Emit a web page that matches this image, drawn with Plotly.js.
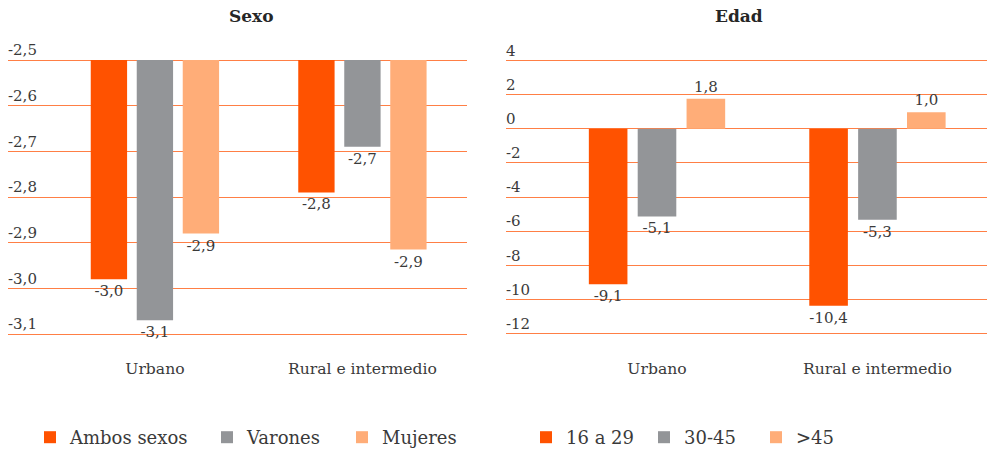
<!DOCTYPE html>
<html>
<head>
<meta charset="utf-8">
<script src="https://cdn.plot.ly/plotly-3.0.1.min.js"></script>
<style>html,body{margin:0;padding:0;background:#fff;}#chart{width:988px;height:450px;}</style>
</head>
<body>
<div id="chart"></div>
<script>
// ---- data ----
const categories = ['Urbano', 'Rural e intermedio'];

const sexoTitle = 'Sexo';
const sexoNames = ['Ambos sexos', 'Varones', 'Mujeres'];
const ambosSexos = [-2.98, -2.79];
const varones = [-3.07, -2.69];
const mujeres = [-2.88, -2.915];
const sexoTicks = [-3.1, -3.0, -2.9, -2.8, -2.7, -2.6, -2.5];

const edadTitle = 'Edad';
const edadNames = ['16 a 29', '30-45', '>45'];
const edad16a29 = [-9.12, -10.37];
const edad30a45 = [-5.14, -5.34];
const edadMas45 = [1.76, 0.97];
const edadTicks = [-12, -10, -8, -6, -4, -2, 0, 2, 4];

// ---- style ----
const colors = ['#FF5200', '#939598', '#FFAD78'];
const FONT = 'DejaVu Serif';
const TXT = '#3a3a3a';
const GRID = '#FF7F45';
const W = 988, H = 450;
const sexoBase = sexoTicks[sexoTicks.length - 1];

const fmt = v => v.toFixed(1).replace('.', ',');

const sexoSeries = [ambosSexos, varones, mujeres];
const edadSeries = [edad16a29, edad30a45, edadMas45];
const sexoLegendW = [132, 90, 80];
const edadLegendW = [73, 67, 40];

const barMarker = c => ({color: c, line: {width: 8, color: 'rgba(0,0,0,0)'}});

const traces = [];
sexoSeries.forEach((vals, i) => {
  traces.push({
    type: 'bar', name: sexoNames[i], x: categories,
    base: sexoBase, y: vals.map(v => v - sexoBase),
    text: vals.map(fmt), texttemplate: '%{text}', textposition: 'outside',
    textfont: {family: FONT, size: 15, color: TXT},
    cliponaxis: false,
    marker: barMarker(colors[i]),
    xaxis: 'x', yaxis: 'y', legend: 'legend', legendwidth: sexoLegendW[i],
    hoverinfo: 'skip'
  });
});
edadSeries.forEach((vals, i) => {
  traces.push({
    type: 'bar', name: edadNames[i], x: categories, y: vals,
    text: vals.map(fmt), texttemplate: '%{text}', textposition: 'outside',
    textfont: {family: FONT, size: 15, color: TXT},
    cliponaxis: false,
    marker: barMarker(colors[i]),
    xaxis: 'x2', yaxis: 'y2', legend: 'legend2', legendwidth: edadLegendW[i],
    hoverinfo: 'skip'
  });
});

// axis ranges padded 1.5px beyond the outer gridlines so Plotly keeps them
const sexoPx = 45.7 / 0.1, edadPx = 34.1 / 2, PAD = 1.5;
const yAxisCommon = {
  ticklabelposition: 'inside', ticklabeloverflow: 'allow',
  ticklabelshift: -10, ticklabelstandoff: -3,
  tickfont: {family: FONT, size: 15, color: TXT},
  showgrid: true, gridcolor: GRID, gridwidth: 1,
  zeroline: false, showline: false, ticks: '', fixedrange: true
};
const xAxisCommon = {
  type: 'category', showgrid: false, zeroline: false, showline: false, ticks: '',
  tickfont: {family: FONT, size: 15.6, color: TXT}, ticklabelstandoff: 22, fixedrange: true
};
const legendCommon = {
  orientation: 'h', xanchor: 'left', yref: 'paper', y: 1 - 419 / H, yanchor: 'top',
  font: {family: FONT, size: 18, color: TXT}, bgcolor: 'rgba(0,0,0,0)',
  traceorder: 'normal', borderwidth: 0
};

const layout = {
  width: W, height: H,
  margin: {l: 0, r: 0, t: 0, b: 0, pad: 0, autoexpand: false},
  paper_bgcolor: '#fff', plot_bgcolor: '#fff',
  separators: ',.',
  barmode: 'group', bargap: 0.335, bargroupgap: 0.21,
  showlegend: true,
  xaxis: Object.assign({}, xAxisCommon, {domain: [8 / W, 467 / W], range: [-0.708, 1.504], anchor: 'y'}),
  yaxis: Object.assign({}, yAxisCommon, {
    domain: [1 - (334 + PAD) / H, 1 - (60 - PAD) / H],
    range: [-3.1 - PAD / sexoPx, -2.5 + PAD / sexoPx],
    tickvals: sexoTicks, ticktext: sexoTicks.map(fmt), anchor: 'x'}),
  xaxis2: Object.assign({}, xAxisCommon, {domain: [506 / W, 987 / W], range: [-0.685, 1.497], anchor: 'y2'}),
  yaxis2: Object.assign({}, yAxisCommon, {
    domain: [1 - (333.5 + PAD) / H, 1 - (60.5 - PAD) / H],
    range: [-12 - PAD / edadPx, 4 + PAD / edadPx],
    tickvals: edadTicks, ticktext: edadTicks.map(String), anchor: 'x2'}),
  legend: Object.assign({}, legendCommon, {x: 30 / W}),
  legend2: Object.assign({}, legendCommon, {x: 526 / W}),
  annotations: [
    {text: sexoTitle, xref: 'paper', yref: 'paper', x: 251.3 / W, y: 1 - 16 / H, xanchor: 'center', yanchor: 'middle',
     showarrow: false, font: {family: FONT, size: 17, color: '#262626', weight: 'bold'}},
    {text: edadTitle, xref: 'paper', yref: 'paper', x: 738.7 / W, y: 1 - 16 / H, xanchor: 'center', yanchor: 'middle',
     showarrow: false, font: {family: FONT, size: 17, color: '#262626', weight: 'bold'}}
  ]
};

Plotly.newPlot('chart', traces, layout, {staticPlot: true, displayModeBar: false});
</script>
</body>
</html>
